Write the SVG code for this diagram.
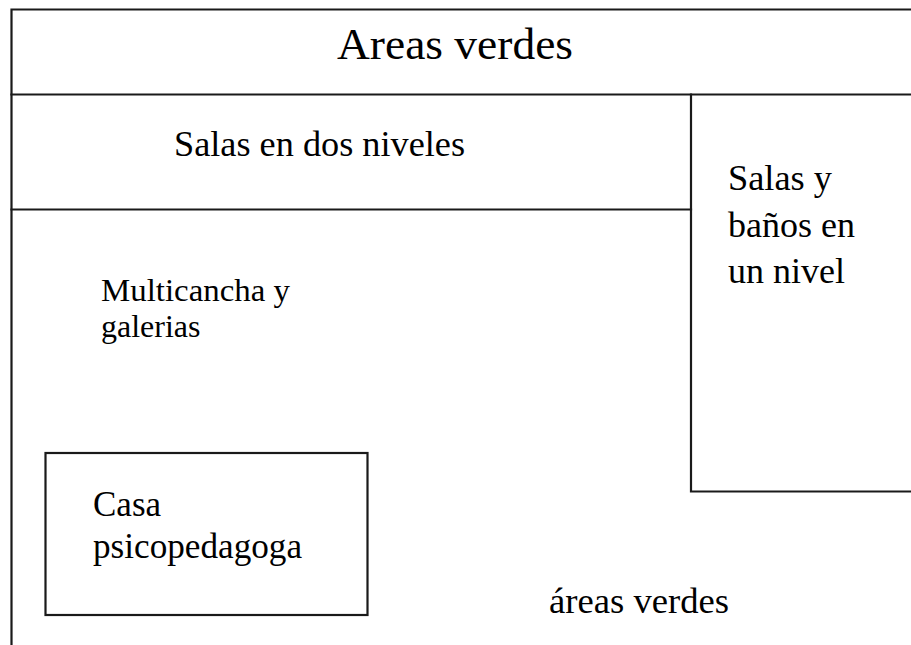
<svg xmlns="http://www.w3.org/2000/svg" width="911" height="645" viewBox="0 0 911 645">
<style>
.wall{stroke:#1a1a1a;stroke-width:2.2;fill:none;stroke-linecap:square}
.t{fill:#000}
</style>
<rect width="911" height="645" fill="#fff"/>
<g id="walls">
<path class="wall" d="M11.5 645 V9.5 H911"/>
<path class="wall" d="M11.5 94.5 H911"/>
<path class="wall" d="M11.5 209.5 H691"/>
<path class="wall" d="M691 94.5 V491.5 H911"/>
</g>
<g font-family="Liberation Serif, DejaVu Serif, serif">
<g id="areas-verdes-top">
<text class="t" x="455" y="59" font-size="45" text-anchor="middle" textLength="236" lengthAdjust="spacingAndGlyphs">Areas verdes</text>
</g>
<g id="salas-dos-niveles">
<text class="t" x="174" y="156" font-size="36" textLength="291" lengthAdjust="spacingAndGlyphs">Salas en dos niveles</text>
</g>
<g id="salas-banos">
<text class="t" x="728" y="190" font-size="36" textLength="104" lengthAdjust="spacingAndGlyphs">Salas y</text>
<text class="t" x="728" y="237" font-size="36">baños en</text>
<text class="t" x="728" y="283" font-size="36">un nivel</text>
</g>
<g id="multicancha">
<text class="t" x="101" y="301" font-size="32" textLength="189" lengthAdjust="spacingAndGlyphs">Multicancha y</text>
<text class="t" x="101" y="337" font-size="32">galerias</text>
</g>
<g id="casa-psicopedagoga">
<rect class="wall" x="45.5" y="453" width="322" height="162"/>
<text class="t" x="93" y="516" font-size="35">Casa</text>
<text class="t" x="93" y="558" font-size="35" textLength="209" lengthAdjust="spacingAndGlyphs">psicopedagoga</text>
</g>
<g id="areas-verdes-bottom">
<text class="t" x="549" y="613" font-size="36" textLength="180" lengthAdjust="spacingAndGlyphs">áreas verdes</text>
</g>
</g>
</svg>
